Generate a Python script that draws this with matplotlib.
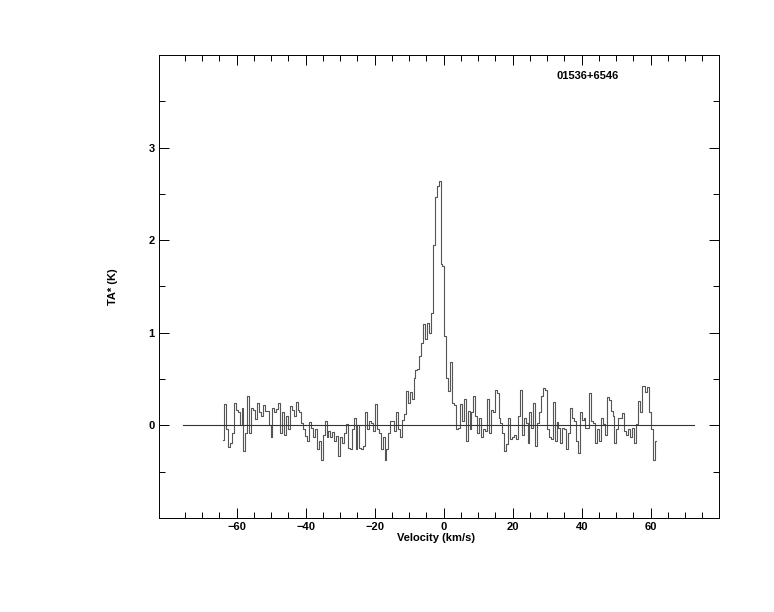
import numpy as np
import matplotlib
matplotlib.use('Agg')
import matplotlib.pyplot as plt
from matplotlib.ticker import FixedLocator

# === Spectrum data ===
source_name = '01536+6546'
v_start = -63.9     # km/s, centre of first channel
dv = 0.56           # km/s per channel

ta = [
    # -64 .. -44
    -0.16, 0.23, -0.04, -0.23, -0.19, -0.08, 0.24, 0.17, 0.14, 0.0,
    0.19, -0.28, -0.08, 0.32, -0.08, 0.19, 0.17, 0.07, 0.24, 0.14,
    0.1, 0.22, 0.15, 0.15, 0.0, -0.12, 0.19, 0.14, 0.18, 0.24,
    -0.08, 0.14, -0.1, 0.1, -0.04, 0.21,
    # -43 .. -22
    0.17, 0.1, 0.25, 0.17, 0.14, 0.03, -0.04, -0.11, -0.17, 0.04,
    -0.03, -0.12, -0.04, -0.26, -0.17, -0.37, -0.1, 0.05, -0.12, -0.06,
    -0.13, -0.07, -0.17, -0.11, -0.33, -0.13, -0.19, -0.08, 0.02, -0.24,
    -0.26, -0.04, 0.08, -0.26, 0.0, -0.24, -0.26, -0.22,
    # -22 .. -8
    0.14, -0.04, 0.05, 0.03, -0.06, 0.23, -0.04, -0.08, -0.26, -0.12,
    -0.37, -0.26, -0.08, 0.05, 0.05, -0.06, 0.14, -0.04, -0.13, 0.06,
    0.12, 0.37, 0.24, 0.36,
    # line
    0.28, 0.51, 0.6, 0.61, 0.75, 0.89, 1.1, 0.93, 1.11, 1.0,
    1.21, 1.95, 2.47, 2.58, 2.64, 1.74, 1.72, 0.97, 0.51, 0.37,
    0.68, 0.24, 0.22,
    # 3 .. 22
    -0.04, -0.03, 0.23, 0.05, 0.29, -0.17, 0.15, -0.04, 0.14, 0.32,
    0.1, -0.08, 0.08, -0.13, -0.04, -0.06, 0.29, -0.08, 0.17, 0.14,
    0.38, 0.35, 0.08, 0.03, -0.08, -0.28, -0.2, 0.08, -0.15, -0.13,
    -0.1, -0.15, 0.1,
    # 22 .. 44
    0.38, -0.1, 0.08, 0.03, -0.19, 0.14, -0.03, 0.24, -0.22, 0.03,
    0.14, 0.32, 0.4, 0.38, -0.04, -0.12, -0.15, 0.25, -0.17, 0.04,
    -0.03, -0.19, -0.03, -0.04, -0.25, -0.08, 0.19, 0.08, 0.05, -0.17,
    -0.3, 0.14, 0.06, 0.08, -0.03, -0.03, 0.35, 0.05, 0.03,
    # 44 .. 62
    -0.19, -0.04, -0.17, 0.08, 0.01, -0.1, 0.31, 0.27, 0.15, 0.1,
    -0.19, -0.04, 0.08, 0.08, 0.13, -0.06, -0.1, -0.04, -0.13, -0.03,
    -0.19, 0.01, 0.26, 0.14, 0.43, 0.42, 0.36, 0.41, 0.14, -0.04,
    -0.37, -0.17,
]
ta = np.array(ta)
velocity = v_start + dv * np.arange(len(ta))

baseline_v = [-75.5, 72.5]
baseline_t = [0.0, 0.0]

x_tick_labels = [-60, -40, -20, 0, 20, 40, 60]
y_tick_labels = [0, 1, 2, 3]

# === Plot ===
plt.rcParams['font.family'] = ['Liberation Sans', 'DejaVu Sans']
plt.rcParams['font.weight'] = 'bold'

fig = plt.figure(figsize=(7.74, 6.12), dpi=100)
ax = fig.add_axes([0.2054, 0.1536, 0.7236, 0.7566])

ax.plot(velocity, ta, drawstyle='steps-mid', color='#555555', lw=0.8)
ax.plot(baseline_v, baseline_t, color='#333333', lw=0.8)

ax.set_xlim(-82.5, 79.8)
ax.set_ylim(-1.0, 4.0)

ax.xaxis.set_major_locator(FixedLocator(x_tick_labels))
ax.xaxis.set_minor_locator(FixedLocator([v for v in range(-75, 80, 5) if v not in x_tick_labels]))
ax.yaxis.set_major_locator(FixedLocator(y_tick_labels))
ax.yaxis.set_minor_locator(FixedLocator([-0.5, 0.5, 1.5, 2.5, 3.5]))

ax.tick_params(which='both', direction='in', top=True, right=True,
               labelsize=8, width=0.7, pad=3)
ax.tick_params(which='major', length=7)
ax.tick_params(which='minor', length=4)
for lab in ax.get_xticklabels() + ax.get_yticklabels():
    lab.set_fontweight('bold')
for sp in ax.spines.values():
    sp.set_linewidth(0.7)

ax.set_xlabel('Velocity (km/s)', fontsize=8, fontweight='bold')
ax.set_ylabel('TA* (K)', fontsize=8, fontweight='bold')
ax.xaxis.set_label_coords(0.495, -0.032)
ax.yaxis.set_label_coords(-0.073, 0.5)

ax.text(0.71, 0.955, source_name, transform=ax.transAxes,
        fontsize=8, fontweight='bold', va='center', ha='left')

fig.savefig('out.png', dpi=100)
